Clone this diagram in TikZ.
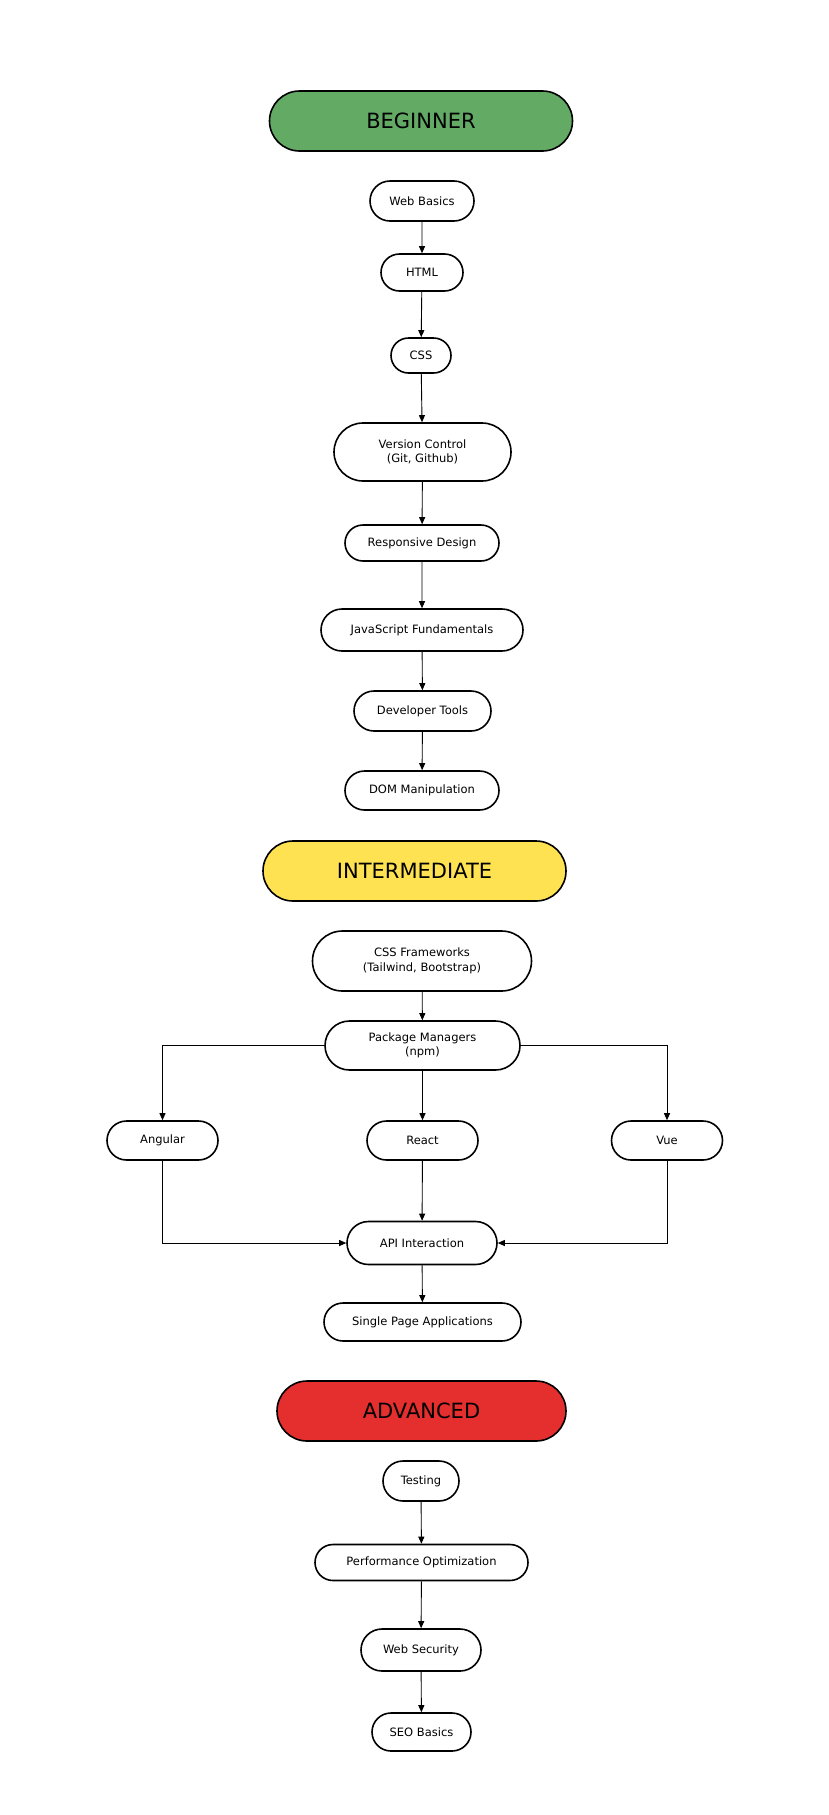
\documentclass[tikz,border=0pt]{standalone}
\usepackage{fontspec}
\setmainfont{DejaVu Sans}
\usetikzlibrary{positioning, shapes.misc, arrows.meta}
\definecolor{begingreen}{RGB}{99,170,101}
\definecolor{midyellow}{RGB}{255,226,82}
\definecolor{advred}{RGB}{229,46,46}
\tikzset{
	topic/.style={
		rounded rectangle,
		draw,
		line width=1.6pt,
		align=center,
		inner sep=0pt,
		minimum height=38pt,
		font=\fontsize{11.5}{14.5}\selectfont,
		fill=white,
	},
	level/.style={
		rounded rectangle,
		draw,
		line width=1.6pt,
		inner sep=0pt,
		minimum width=303pt,
		minimum height=60pt,
		font=\fontsize{21}{25}\selectfont,
	},
	link/.style={
		-{Triangle[length=7pt,width=6pt]},
		line width=0.9pt,
	},
}
\begin{document}
\begin{tikzpicture}[x=1pt, y=-1pt]
		\useasboundingbox (0,0) rectangle (829,1815);
		% Beginner
		\node [level, fill=begingreen] (beg) at (421,121) {BEGINNER};
		\node [topic, minimum width=104pt, minimum height=40pt] (web) at (422,201) {Web Basics};
		\node [topic, minimum width=82pt, minimum height=37pt] (html) at (422,272.5) {HTML};
		\node [topic, minimum width=60pt, minimum height=35pt] (css) at (421,355.5) {CSS};
		\node [topic, minimum width=177pt, minimum height=58pt] (vc) at (422.5,452) {Version Control\\(Git, Github)};
		\node [topic, minimum width=154pt, minimum height=36pt] (resp) at (422,543) {Responsive Design};
		\node [topic, minimum width=202pt, minimum height=42pt] (js) at (422,630) {JavaScript Fundamentals};
		\node [topic, minimum width=137pt, minimum height=40pt] (devt) at (422.5,711) {Developer Tools};
		\node [topic, minimum width=154pt, minimum height=39pt] (dom) at (422,790.5) {DOM Manipulation};
		
		\draw [link] (web) to (html);
		\draw [link] (html) to (css);
		\draw [link] (css) to (vc);
		\draw [link] (vc) to (resp);
		\draw [link] (resp) to (js);
		\draw [link] (js) to (devt);
		\draw [link] (devt) to (dom);
		
		% Intermediate
		\node [level, fill=midyellow] (mid) at (414.5,871) {INTERMEDIATE};
		\node [topic, minimum width=219pt, minimum height=60pt] (cssf) at (422,961) {CSS Frameworks\\(Tailwind, Bootstrap)};
		\node [topic, minimum width=195pt, minimum height=49pt] (pkg) at (422.5,1045.5) {Package Managers\\(npm)};
		\node [topic, minimum width=111pt, minimum height=39pt] (ang) at (162.5,1140.5) {Angular};
		\node [topic, minimum width=111pt, minimum height=39pt] (react) at (422.5,1140.5) {React};
		\node [topic, minimum width=111pt, minimum height=39pt] (vue) at (667,1140.5) {Vue};
		\node [topic, minimum width=150pt, minimum height=43pt] (api) at (422,1243) {API Interaction};
		\node [topic, minimum width=197pt, minimum height=38pt] (spa) at (422.5,1322) {Single Page Applications};
		
		\draw [link] (cssf) to (pkg);
		\draw [link] (pkg.west) -| (ang.north);
		\draw [link] (pkg) to (react);
		\draw [link] (pkg.east) -| (vue.north);
		\draw [link] (ang.south) |- (api.west);
		\draw [link] (react) to (api);
		\draw [link] (vue.south) |- (api.east);
		\draw [link] (api) to (spa);
		
		% Advanced
		\node [level, fill=advred, minimum width=289pt] (adv) at (421.5,1411) {ADVANCED};
		\node [topic, minimum width=76pt, minimum height=40pt] (test) at (421,1481) {Testing};
		\node [topic, minimum width=213pt, minimum height=36pt] (perf) at (421.5,1562.5) {Performance Optimization};
		\node [topic, minimum width=120pt, minimum height=42pt] (sec) at (421,1650) {Web Security};
		\node [topic, minimum width=99pt, minimum height=38pt] (seo) at (421.5,1732) {SEO Basics};
		
		\draw [link] (test) to (perf);
		\draw [link] (perf) to (sec);
		\draw [link] (sec) to (seo);

	\end{tikzpicture}
\end{document}
